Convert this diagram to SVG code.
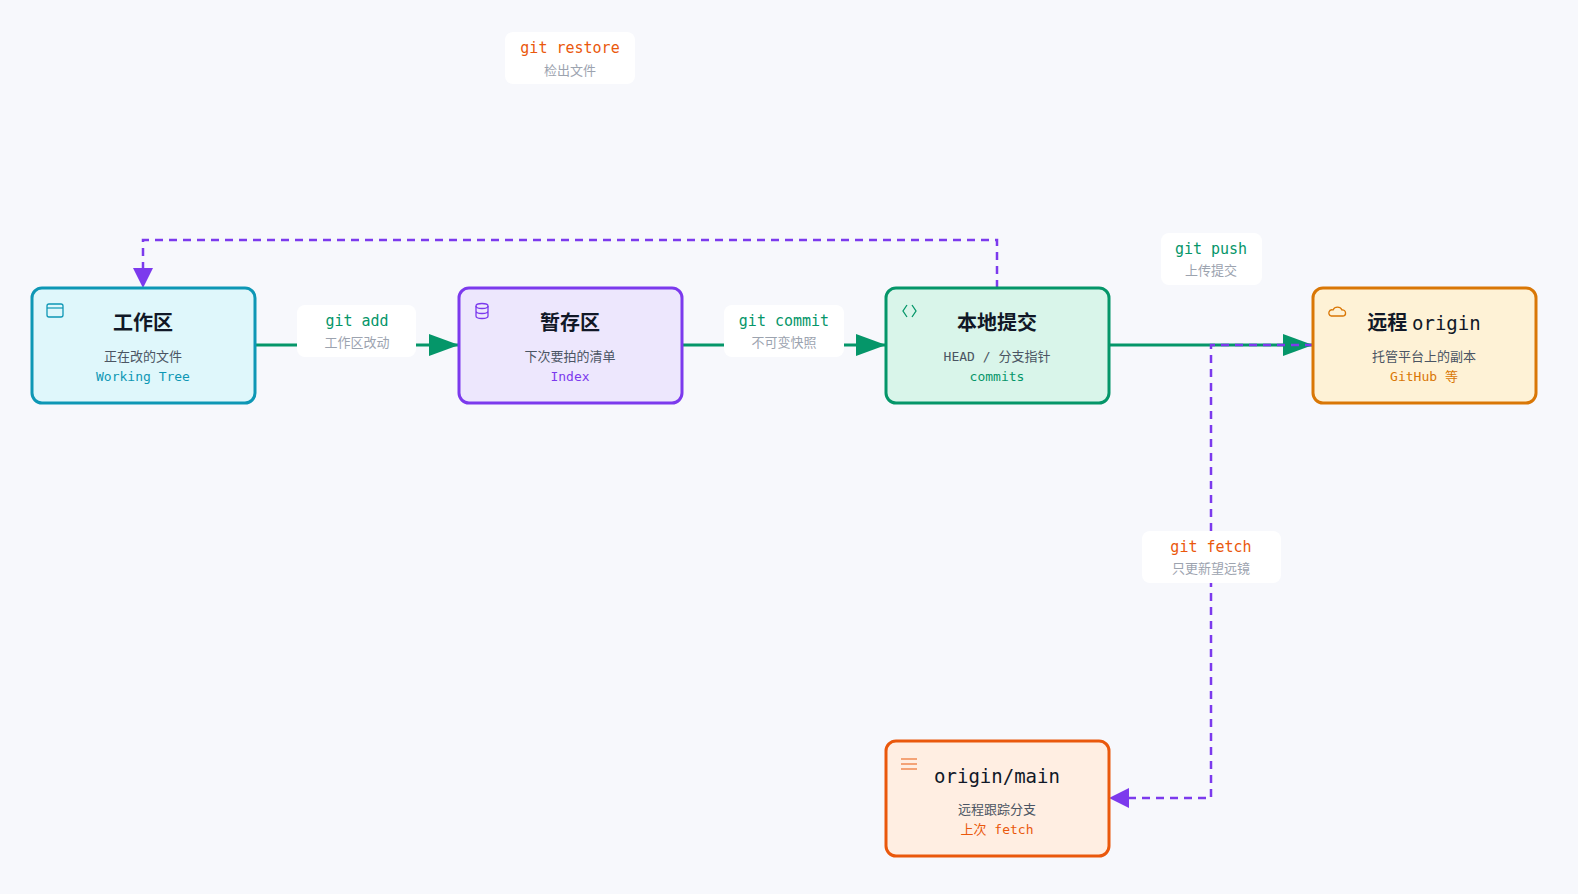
<svg xmlns="http://www.w3.org/2000/svg" width="1578" height="894" viewBox="0 0 1578 894">
<style>
.t{font-family:"Inter","Noto Sans CJK SC",sans-serif;font-weight:700;font-size:20px;fill:#111827;text-anchor:middle}
.tm{font-family:"DejaVu Sans Mono","Liberation Mono",monospace;font-size:19px;fill:#111827;text-anchor:middle}
.s{font-family:"Inter","Noto Sans CJK SC",sans-serif;font-size:13px;fill:#4b5563;text-anchor:middle}
.m{font-family:"DejaVu Sans Mono","Liberation Mono","Noto Sans CJK SC",monospace;font-size:13px;text-anchor:middle}
.lm{font-family:"DejaVu Sans Mono","Liberation Mono",monospace;font-size:15px;text-anchor:middle}
.ls{font-family:"Noto Sans CJK SC",sans-serif;font-size:13px;fill:#9ca3af;text-anchor:middle}
.lb{fill:#fff}
.g{stroke:#059669;stroke-width:3;fill:none}
.d{stroke:#7c3aed;stroke-width:2.5;fill:none;stroke-dasharray:8 6}
</style>
<defs>
<marker id="ag" markerWidth="30" markerHeight="22" refX="30" refY="11" orient="auto" markerUnits="userSpaceOnUse" viewBox="0 0 30 22"><path d="M0,0L30,11L0,22z" fill="#059669"/></marker>
<marker id="ap" markerWidth="20" markerHeight="20" refX="20" refY="10" orient="auto" markerUnits="userSpaceOnUse" viewBox="0 0 20 20"><path d="M0,0L20,10L0,20z" fill="#7c3aed"/></marker>
</defs>
<rect width="1578" height="894" fill="#f7f8fc"/>
<g id="connectors">
<path class="g" d="M255,345H459" marker-end="url(#ag)"/>
<path class="g" d="M682,345H886" marker-end="url(#ag)"/>
<path class="g" d="M1109,345H1313" marker-end="url(#ag)"/>
<path class="d" d="M997,288V240H143V288" marker-end="url(#ap)"/>
<path class="d" d="M1313,345H1211V798H1109" marker-end="url(#ap)"/>
<g><rect class="lb" x="505" y="32" width="130" height="52" rx="8"/><text class="lm" x="570" y="53" fill="#ea580c">git restore</text><text class="ls" x="570" y="75">检出文件</text></g>
<g><rect class="lb" x="297" y="305" width="119" height="52" rx="8"/><text class="lm" x="357" y="326" fill="#059669">git add</text><text class="ls" x="357" y="347">工作区改动</text></g>
<g><rect class="lb" x="724" y="305" width="120" height="52" rx="8"/><text class="lm" x="784" y="326" fill="#059669">git commit</text><text class="ls" x="784" y="347">不可变快照</text></g>
<g><rect class="lb" x="1161" y="233" width="101" height="52" rx="8"/><text class="lm" x="1211" y="254" fill="#059669">git push</text><text class="ls" x="1211" y="275">上传提交</text></g>
<g><rect class="lb" x="1142" y="531" width="139" height="52" rx="8"/><text class="lm" x="1211" y="552" fill="#ea580c">git fetch</text><text class="ls" x="1211" y="573">只更新望远镜</text></g>
</g>
<g id="work"><rect x="32" y="288" width="223" height="115" rx="10" fill="#dff7fb" stroke="#0e97b5" stroke-width="3"/>
<rect x="47" y="304" width="16" height="13" rx="2" fill="none" stroke="#0e97b5" stroke-width="1.3"/><path d="M47,308H63" stroke="#0e97b5" stroke-width="1.2"/>
<text class="t" x="143" y="330">工作区</text><text class="s" x="143" y="361">正在改的文件</text><text class="m" x="143" y="381" fill="#0e97b5">Working Tree</text></g>
<g id="index"><rect x="459" y="288" width="223" height="115" rx="10" fill="#ede7fd" stroke="#7c3aed" stroke-width="3"/>
<ellipse cx="482" cy="306" rx="6" ry="2.5" fill="none" stroke="#7c3aed" stroke-width="1.3"/><path d="M476,306V316A6,2.5 0 0 0 488,316V306M476,311A6,2.5 0 0 0 488,311" fill="none" stroke="#7c3aed" stroke-width="1.3"/>
<text class="t" x="570" y="330">暂存区</text><text class="s" x="570" y="361">下次要拍的清单</text><text class="m" x="570" y="381" fill="#7c3aed">Index</text></g>
<g id="local"><rect x="886" y="288" width="223" height="115" rx="10" fill="#d9f5ea" stroke="#059669" stroke-width="3"/>
<path d="M907,305L903,311L907,317M912,305L916,311L912,317" fill="none" stroke="#059669" stroke-width="1.3"/>
<text class="t" x="997" y="330">本地提交</text><text class="m" x="997" y="361" fill="#4b5563">HEAD / 分支指针</text><text class="m" x="997" y="381" fill="#059669">commits</text></g>
<g id="remote"><rect x="1313" y="288" width="223" height="115" rx="10" fill="#fef2d6" stroke="#d97706" stroke-width="3"/>
<path d="M1331,316H1343A3,3 0 0 0 1342,310A5,5 0 0 0 1333,310A3,3 0 0 0 1331,316Z" fill="none" stroke="#d97706" stroke-width="1.3"/>
<text class="t" x="1424" y="330"><tspan>远程 </tspan><tspan font-family="DejaVu Sans Mono,monospace" font-weight="400" font-size="19">origin</tspan></text><text class="s" x="1424" y="361">托管平台上的副本</text><text class="m" x="1424" y="381" fill="#d97706">GitHub 等</text></g>
<g id="originmain"><rect x="886" y="741" width="223" height="115" rx="10" fill="#ffeee2" stroke="#ea580c" stroke-width="3"/>
<path d="M901,759H917M901,764H917M901,769H917" stroke="#ea580c" stroke-width="1.2"/>
<text class="tm" x="997" y="783">origin/main</text><text class="s" x="997" y="814">远程跟踪分支</text><text class="m" x="997" y="834" fill="#ea580c">上次 fetch</text></g>
</svg>
